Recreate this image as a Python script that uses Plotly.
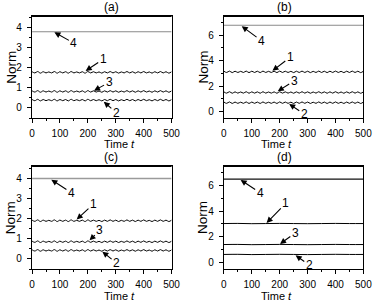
import plotly.graph_objects as go

# ---------------- data ----------------
time_t = list(range(0, 501, 10))      # 51 samples, t = 0..500
time_flat = [0, 500]
time_d = [0, 50, 100, 150, 200, 250, 300, 350, 400, 450, 500]

# panel (a)
a_norm1 = [1.80,1.74,1.81,1.73,1.80,1.74,1.79,1.74,1.81,1.73, 1.80,1.74,1.80,1.73,1.81,1.74,1.79,1.74,1.80,1.73,
           1.81,1.74,1.80,1.74,1.79,1.73,1.80,1.74,1.81,1.74, 1.80,1.73,1.79,1.74,1.81,1.74,1.80,1.73,1.80,1.74,
           1.81,1.74,1.79,1.73,1.80,1.74,1.81,1.74,1.80,1.73, 1.80]
a_norm3 = [0.85,0.79,0.86,0.78,0.85,0.79,0.84,0.79,0.86,0.78, 0.85,0.79,0.85,0.78,0.86,0.79,0.84,0.79,0.85,0.78,
           0.86,0.79,0.85,0.79,0.84,0.78,0.85,0.79,0.86,0.79, 0.85,0.78,0.84,0.79,0.86,0.79,0.85,0.78,0.85,0.79,
           0.86,0.79,0.84,0.78,0.85,0.79,0.86,0.79,0.85,0.78, 0.85]
a_norm2 = [0.42,0.36,0.43,0.35,0.42,0.36,0.41,0.36,0.43,0.35, 0.42,0.36,0.42,0.35,0.43,0.36,0.41,0.36,0.42,0.35,
           0.43,0.36,0.42,0.36,0.41,0.35,0.42,0.36,0.43,0.36, 0.42,0.35,0.41,0.36,0.43,0.36,0.42,0.35,0.42,0.36,
           0.43,0.36,0.41,0.35,0.42,0.36,0.43,0.36,0.42,0.35, 0.42]
a_norm4 = [3.79, 3.79]

# panel (b)
b_norm1 = [3.17,3.07,3.18,3.06,3.17,3.07,3.16,3.07,3.18,3.06, 3.17,3.07,3.17,3.06,3.18,3.07,3.16,3.07,3.17,3.06,
           3.18,3.07,3.17,3.07,3.16,3.06,3.17,3.07,3.18,3.07, 3.17,3.06,3.16,3.07,3.18,3.07,3.17,3.06,3.17,3.07,
           3.18,3.07,3.16,3.06,3.17,3.07,3.18,3.07,3.17,3.06, 3.17]
b_norm3 = [1.55,1.45,1.56,1.44,1.55,1.45,1.54,1.45,1.56,1.44, 1.55,1.45,1.55,1.44,1.56,1.45,1.54,1.45,1.55,1.44,
           1.56,1.45,1.55,1.45,1.54,1.44,1.55,1.45,1.56,1.45, 1.55,1.44,1.54,1.45,1.56,1.45,1.55,1.44,1.55,1.45,
           1.56,1.45,1.54,1.44,1.55,1.45,1.56,1.45,1.55,1.44, 1.55]
b_norm2 = [0.75,0.65,0.76,0.64,0.75,0.65,0.74,0.65,0.76,0.64, 0.75,0.65,0.75,0.64,0.76,0.65,0.74,0.65,0.75,0.64,
           0.76,0.65,0.75,0.65,0.74,0.64,0.75,0.65,0.76,0.65, 0.75,0.64,0.74,0.65,0.76,0.65,0.75,0.64,0.75,0.65,
           0.76,0.65,0.74,0.64,0.75,0.65,0.76,0.65,0.75,0.64, 0.75]
b_norm4 = [6.78, 6.78]

# panel (c)
c_norm1 = [1.92,1.86,1.93,1.85,1.92,1.86,1.91,1.86,1.93,1.85, 1.92,1.86,1.92,1.85,1.93,1.86,1.91,1.86,1.92,1.85,
           1.93,1.86,1.92,1.86,1.91,1.85,1.92,1.86,1.93,1.86, 1.92,1.85,1.91,1.86,1.93,1.86,1.92,1.85,1.92,1.86,
           1.93,1.86,1.91,1.85,1.92,1.86,1.93,1.86,1.92,1.85, 1.92]
c_norm3 = [0.88,0.82,0.89,0.81,0.88,0.82,0.87,0.82,0.89,0.81, 0.88,0.82,0.88,0.81,0.89,0.82,0.87,0.82,0.88,0.81,
           0.89,0.82,0.88,0.82,0.87,0.81,0.88,0.82,0.89,0.82, 0.88,0.81,0.87,0.82,0.89,0.82,0.88,0.81,0.88,0.82,
           0.89,0.82,0.87,0.81,0.88,0.82,0.89,0.82,0.88,0.81, 0.88]
c_norm2 = [0.45,0.39,0.46,0.38,0.45,0.39,0.44,0.39,0.46,0.38, 0.45,0.39,0.45,0.38,0.46,0.39,0.44,0.39,0.45,0.38,
           0.46,0.39,0.45,0.39,0.44,0.38,0.45,0.39,0.46,0.39, 0.45,0.38,0.44,0.39,0.46,0.39,0.45,0.38,0.45,0.39,
           0.46,0.39,0.44,0.38,0.45,0.39,0.46,0.39,0.45,0.38, 0.45]
c_norm4 = [3.98, 3.98]

# panel (d)
d_norm1 = [3.03, 3.04, 3.02, 3.03, 3.04, 3.03, 3.02, 3.03, 3.04, 3.03, 3.03]
d_norm3 = [1.40, 1.41, 1.39, 1.40, 1.41, 1.40, 1.39, 1.40, 1.41, 1.40, 1.40]
d_norm2 = [0.63, 0.64, 0.62, 0.63, 0.64, 0.63, 0.62, 0.63, 0.64, 0.63, 0.63]
d_norm4 = [6.48, 6.48]

panel_titles = ["(a)", "(b)", "(c)", "(d)"]
curve_labels = ["1", "2", "3", "4"]

# arrow annotations: (label, head x, head y, label x, label y)
arrows_a = [("4", 80, 3.76, 150, 3.22), ("1", 192, 1.84, 255, 2.42),
            ("3", 222, 0.86, 276, 1.27), ("2", 257, 0.31, 302, -0.24)]
arrows_b = [("4", 64, 6.70, 135, 5.56), ("1", 174, 3.20, 238, 4.27),
            ("3", 193, 1.60, 252, 2.42), ("2", 234, 0.60, 288, -0.20)]
arrows_c = [("4", 69, 3.92, 141, 3.28), ("1", 160, 1.95, 220, 2.72),
            ("3", 206, 0.92, 243, 1.42), ("2", 252, 0.36, 303, -0.21)]
arrows_d = [("4", 60, 6.42, 130, 5.42), ("1", 153, 3.08, 222, 4.60),
            ("3", 201, 1.45, 256, 2.30), ("2", 257, 0.56, 306, -0.20)]

# ---------------- figure ----------------
W, H = 385, 302
FONT = "Liberation Sans, Arial, sans-serif"

def px_x(p):
    return p / W

def px_y(p):
    return 1 - p / H

panels = [
    dict(xd=[px_x(30), px_x(174)], yd=[px_y(118), px_y(16)], yr=[-0.5, 4.57], dt=1, mdt=0.5,
         series=[(time_t, a_norm1), (time_t, a_norm3), (time_t, a_norm2)], top=(time_flat, a_norm4),
         topstyle=dict(color="#8a8a8a", width=1.1), arrows=arrows_a),
    dict(xd=[px_x(228), px_x(372)], yd=[px_y(118), px_y(16)], yr=[-0.5, 7.5], dt=2, mdt=1,
         series=[(time_t, b_norm1), (time_t, b_norm3), (time_t, b_norm2)], top=(time_flat, b_norm4),
         topstyle=dict(color="#8a8a8a", width=1.1), arrows=arrows_b),
    dict(xd=[px_x(30), px_x(174)], yd=[px_y(269), px_y(166)], yr=[-0.5, 4.6], dt=1, mdt=0.5,
         series=[(time_t, c_norm1), (time_t, c_norm3), (time_t, c_norm2)], top=(time_flat, c_norm4),
         topstyle=dict(color="#9a9a9a", width=1.6), arrows=arrows_c),
    dict(xd=[px_x(228), px_x(372)], yd=[px_y(269), px_y(166)], yr=[-0.5, 7.5], dt=2, mdt=1,
         series=[(time_d, d_norm1), (time_d, d_norm3), (time_d, d_norm2)], top=(time_flat, d_norm4),
         topstyle=dict(color="#111111", width=1.3), arrows=arrows_d),
]

fig = go.Figure()
layout = dict(width=W, height=H, margin=dict(l=0, r=0, t=0, b=0),
              paper_bgcolor="white", plot_bgcolor="white", showlegend=False,
              font=dict(family=FONT, color="black", size=11))
annotations = []
shapes = []

for i, p in enumerate(panels):
    k = "" if i == 0 else str(i + 1)
    xa, ya = "x" + k, "y" + k
    for (tx, vy) in p["series"]:
        fig.add_trace(go.Scatter(x=tx, y=vy, mode="lines", xaxis=xa, yaxis=ya, hoverinfo="skip",
                                 line=dict(color="black", width=1, shape="spline", smoothing=1.0)))
    fig.add_trace(go.Scatter(x=p["top"][0], y=p["top"][1], mode="lines", xaxis=xa, yaxis=ya,
                             hoverinfo="skip", line=p["topstyle"]))
    common = dict(showline=True, linecolor="black", linewidth=1.3, mirror=True,
                  ticks="outside", ticklen=4, tickwidth=1, tickcolor="black",
                  showgrid=False, zeroline=False, tickfont=dict(size=10, family=FONT))
    layout["xaxis" + k] = dict(domain=p["xd"], range=[0, 500], dtick=100, tick0=0,
                               anchor=ya, ticklabelstandoff=2,
                               minor=dict(ticks="outside", ticklen=2, dtick=50, tickcolor="black"),
                               **common)
    layout["yaxis" + k] = dict(domain=p["yd"], range=p["yr"], dtick=p["dt"], tick0=0,
                               anchor=xa, ticklabelstandoff=3,
                               minor=dict(ticks="outside", ticklen=2, dtick=p["mdt"], tickcolor="black"),
                               **common)
    # heavier top frame line
    shapes.append(dict(type="line", xref="paper", yref="paper", x0=p["xd"][0], x1=p["xd"][1],
                       y0=p["yd"][1], y1=p["yd"][1], line=dict(color="black", width=2)))
    xc = (p["xd"][0] + p["xd"][1]) / 2
    yc = (p["yd"][0] + p["yd"][1]) / 2
    annotations.append(dict(text=panel_titles[i], xref="paper", yref="paper", x=xc,
                            y=p["yd"][1] + 9 / H, yanchor="middle", showarrow=False,
                            font=dict(size=12, family=FONT)))
    annotations.append(dict(text="Time <i>t</i>", xref="paper", yref="paper", x=xc,
                            y=p["yd"][0] - 26.5 / H, yanchor="middle", showarrow=False,
                            font=dict(size=11, family=FONT)))
    annotations.append(dict(text="Norm", xref="paper", yref="paper",
                            x=p["xd"][0] - 22 / W, y=yc, xanchor="center", yanchor="middle",
                            textangle=-90, showarrow=False, font=dict(size=13.5, family=FONT)))
    for (lab, hx, hy, lx, ly) in p["arrows"]:
        annotations.append(dict(text=lab, x=hx, y=hy, xref=xa, yref=ya, ax=lx, ay=ly,
                                axref=xa, ayref=ya, showarrow=True, arrowhead=2,
                                arrowsize=1.1, arrowwidth=1.1, arrowcolor="black", standoff=0,
                                font=dict(size=12, family=FONT)))

layout["annotations"] = annotations
layout["shapes"] = shapes
fig.update_layout(**layout)
fig.write_html("out.html", config={"displayModeBar": False},
               post_script="document.body.style.margin='0';document.body.style.overflow='hidden';")
